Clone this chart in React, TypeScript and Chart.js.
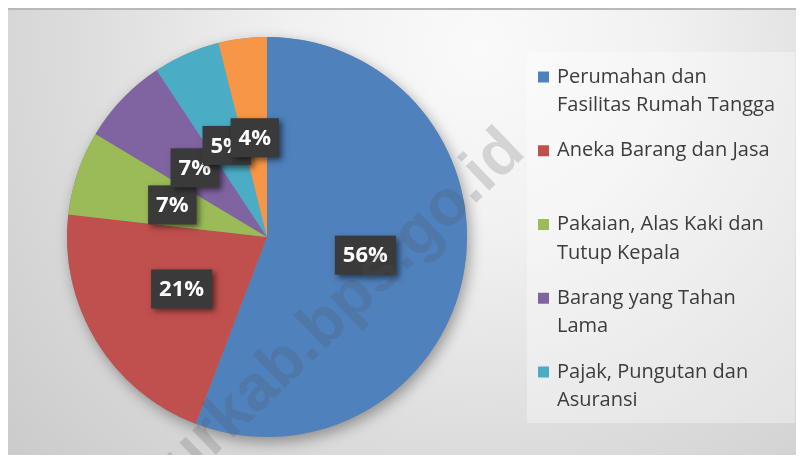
import React, { useEffect, useRef } from "react";
import { Chart, registerables } from "chart.js";

Chart.register(...registerables);

// ---- data ----
const categories: string[][] = [
  ["Perumahan dan", "Fasilitas Rumah Tangga"],
  ["Aneka Barang dan Jasa"],
  ["Pakaian, Alas Kaki dan", "Tutup Kepala"],
  ["Barang yang Tahan", "Lama"],
  ["Pajak, Pungutan dan", "Asuransi"],
  ["Keperluan Pesta dan", "Upacara/Kenduri"],
];
const shares = [55.8, 21.0, 6.8, 7.1, 5.4, 3.9];
const sliceColors = ["#4f81bd", "#c0504d", "#9bbb59", "#8064a2", "#4bacc6", "#f79646"];
const legendShown = [true, true, true, true, true, false];
const watermarkText = "urkab.bps.go.id";

const W = 796;
const H = 455;

const backgroundPlugin = {
  id: "bgPlugin",
  beforeDraw(chart: any) {
    const ctx = chart.ctx as CanvasRenderingContext2D;
    ctx.save();
    const g = ctx.createRadialGradient(470, 40, 0, 470, 40, 620);
    g.addColorStop(0, "#fafafa");
    g.addColorStop(0.3, "#f1f1f1");
    g.addColorStop(0.65, "#dcdcdc");
    g.addColorStop(1, "#cbcbcb");
    ctx.fillStyle = g;
    ctx.fillRect(0, 0, W, H);
    ctx.fillStyle = "#b9b9b9";
    ctx.fillRect(0, 0, W, 2);
    // legend box
    ctx.fillStyle = "rgba(255,255,255,0.35)";
    ctx.fillRect(519, 44, 268, 371);
    ctx.restore();
  },
  beforeDatasetsDraw(chart: any) {
    const meta = chart.getDatasetMeta(0);
    const arc = meta.data[0];
    if (!arc) return;
    const ctx = chart.ctx as CanvasRenderingContext2D;
    ctx.save();
    ctx.shadowColor = "rgba(0,0,0,0.35)";
    ctx.shadowBlur = 14;
    ctx.shadowOffsetX = 3;
    ctx.shadowOffsetY = 5;
    ctx.fillStyle = "#888";
    ctx.beginPath();
    ctx.arc(arc.x, arc.y, arc.outerRadius, 0, Math.PI * 2);
    ctx.fill();
    ctx.restore();
  },
  afterDatasetsDraw(chart: any) {
    const ctx = chart.ctx as CanvasRenderingContext2D;
    const meta = chart.getDatasetMeta(0);
    const data = chart.data.datasets[0].data as number[];
    const total = data.reduce((a, b) => a + b, 0);
    ctx.save();
    ctx.font = "bold 22px 'Open Sans'";
    ctx.textAlign = "center";
    ctx.textBaseline = "middle";
    meta.data.forEach((arc: any, i: number) => {
      const p = arc.getCenterPoint();
      const txt = Math.round((data[i] / total) * 100) + "%";
      const tw = ctx.measureText(txt).width;
      const bw = tw + 16;
      const bh = 39;
      ctx.save();
      ctx.shadowColor = "rgba(0,0,0,0.55)";
      ctx.shadowBlur = 6;
      ctx.shadowOffsetX = 3;
      ctx.shadowOffsetY = 3;
      ctx.fillStyle = "#3a3a3a";
      ctx.fillRect(p.x - bw / 2, p.y - bh / 2, bw, bh);
      ctx.restore();
      ctx.fillStyle = "#ffffff";
      ctx.fillText(txt, p.x, p.y + 1);
    });
    ctx.restore();
  },
  afterDraw(chart: any) {
    const ctx = chart.ctx as CanvasRenderingContext2D;
    const labels = chart.data.labels as string[][];
    const colors = chart.data.datasets[0].backgroundColor as string[];
    ctx.save();
    // legend
    ctx.font = "20px 'Open Sans'";
    ctx.textAlign = "left";
    ctx.textBaseline = "middle";
    let slot = 0;
    labels.forEach((lines, i) => {
      if (!legendShown[i]) return;
      const y0 = 69 + slot * 73.75;
      ctx.fillStyle = colors[i];
      ctx.fillRect(530, y0 - 5.5, 11, 11);
      ctx.fillStyle = "#3c3c3c";
      lines.forEach((ln, j) => ctx.fillText(ln, 549, y0 + j * 28.5));
      slot++;
    });
    // watermark
    ctx.translate(519, 146);
    ctx.rotate((-44 * Math.PI) / 180);
    ctx.font = "bold 64px 'Liberation Sans'";
    ctx.textAlign = "right";
    ctx.textBaseline = "alphabetic";
    ctx.fillStyle = "rgba(80,80,80,0.2)";
    ctx.fillText(watermarkText, 0, 0);
    ctx.restore();
  },
};

export default function App() {
  const ref = useRef<HTMLCanvasElement | null>(null);
  useEffect(() => {
    if (!ref.current) return;
    document.body.style.overflow = "hidden";
    const chart = new Chart(ref.current, {
      type: "pie",
      data: {
        labels: categories,
        datasets: [
          {
            data: shares,
            backgroundColor: sliceColors,
            borderWidth: 0,
          },
        ],
      },
      options: {
        responsive: false,
        animation: false,
        layout: { padding: { left: 59, right: 337, top: 29, bottom: 26 } },
        plugins: {
          legend: { display: false },
          tooltip: { enabled: false },
        },
      },
      plugins: [backgroundPlugin],
    });
    return () => chart.destroy();
  }, []);
  return (
    <div style={{ width: W, height: H, marginBottom: -8 }}>
      <canvas ref={ref} width={W} height={H} style={{ display: "block" }} />
    </div>
  );
}
